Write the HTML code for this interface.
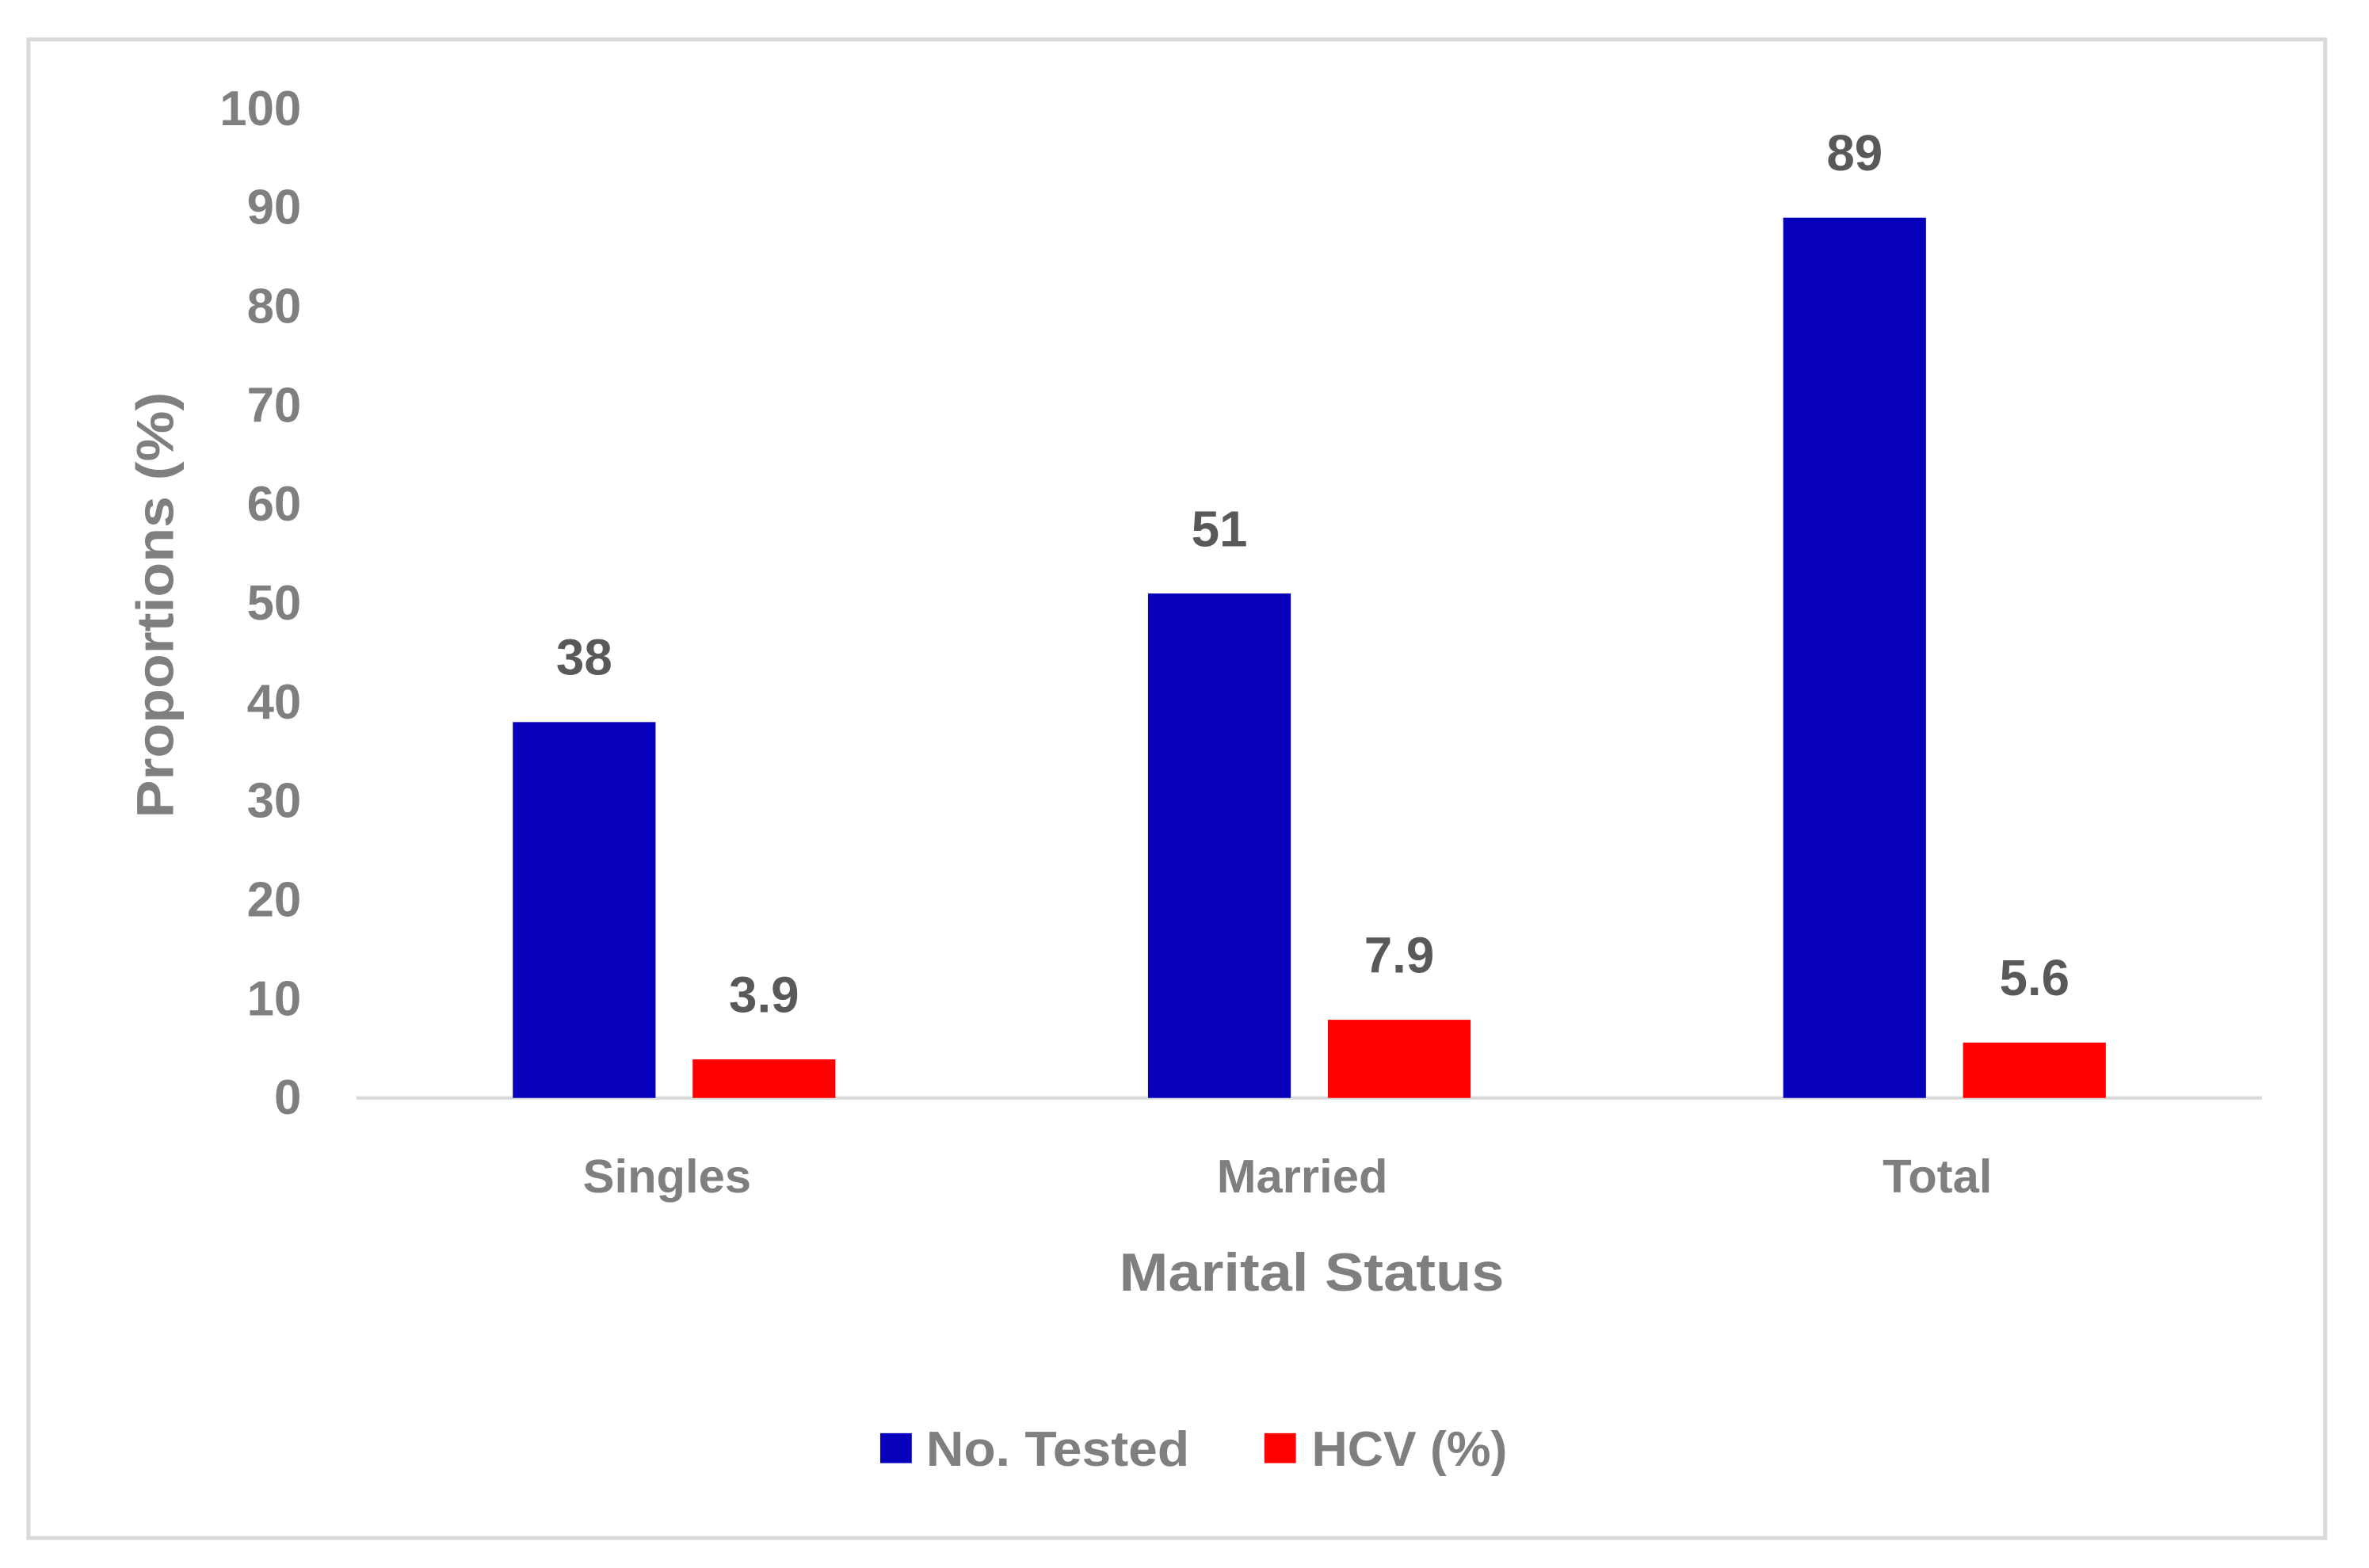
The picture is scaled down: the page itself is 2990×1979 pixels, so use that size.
<!DOCTYPE html>
<html><head><meta charset="utf-8"><style>
html,body{margin:0;padding:0;background:#fff;}
svg{display:block;font-family:"Liberation Sans",sans-serif;font-weight:bold;}
</style></head><body>
<svg id="chart" width="2990" height="1979" viewBox="0 0 2990 1979" xmlns="http://www.w3.org/2000/svg">
<g transform="scale(0.9955)">
<rect x="36" y="50" width="2912" height="1900" fill="#fff" stroke="#d9d9d9" stroke-width="5"/>
<g id="yticks"></g>
<line x1="452" y1="1392" x2="2868" y2="1392" stroke="#d9d9d9" stroke-width="4"/>
<g id="bars"></g>
<g id="xlabels"></g>
<text transform="translate(197,767) rotate(-90)" text-anchor="middle" dominant-baseline="central" font-size="66" fill="#7f7f7f" textLength="540" lengthAdjust="spacingAndGlyphs">Proportions (%)</text>
<text x="1663" y="1614" text-anchor="middle" dominant-baseline="central" font-size="68" fill="#7f7f7f" textLength="488" lengthAdjust="spacingAndGlyphs">Marital Status</text>
<g>
<rect x="1116" y="1817" width="40" height="38" fill="#0600bd"/>
<text x="1174" y="1838" dominant-baseline="central" font-size="62" fill="#7f7f7f" textLength="334" lengthAdjust="spacingAndGlyphs">No. Tested</text>
<rect x="1603" y="1817" width="40" height="38" fill="#ff0000"/>
<text x="1663" y="1838" dominant-baseline="central" font-size="62" fill="#7f7f7f" textLength="248" lengthAdjust="spacingAndGlyphs">HCV (%)</text>
</g>
</g>
</svg>
<script>
const categories = ["Singles", "Married", "Total"];
const noTested = [38, 51, 89];
const hcv = [3.9, 7.9, 5.6];
const noTestedLabels = ["38", "51", "89"];
const hcvLabels = ["3.9", "7.9", "5.6"];
const yTicks = [0, 10, 20, 30, 40, 50, 60, 70, 80, 90, 100];

const NS = "http://www.w3.org/2000/svg";
const x0 = 452, x1 = 2868, yBase = 1392, yTop = 138;
const yMax = 100;
function yScale(v){ return yBase - (v / yMax) * (yBase - yTop); }
const band = (x1 - x0) / categories.length;
function bandCenter(i){ return x0 + band * (i + 0.5); }
const barW = 181, gap = 47;

const yt = document.getElementById('yticks');
yTicks.forEach(t => {
  const el = document.createElementNS(NS, 'text');
  
  
  el.setAttribute('x', 382);
  el.setAttribute('y', yScale(t));
  el.setAttribute('text-anchor', 'end');
  el.setAttribute('dominant-baseline', 'central');
  el.setAttribute('font-size', '62');
  el.setAttribute('fill', '#7f7f7f');
  el.textContent = String(t);
  yt.appendChild(el);
});

const bg = document.getElementById('bars');
function addBar(i, v, label, color, offset, name){
  const xl = bandCenter(i) + offset;
  const r = document.createElementNS(NS, 'rect');
  
  
  r.setAttribute('x', xl);
  r.setAttribute('y', yScale(v));
  r.setAttribute('width', barW);
  r.setAttribute('height', yBase - yScale(v));
  r.setAttribute('fill', color);
  bg.appendChild(r);
  const t = document.createElementNS(NS, 'text');
  
  
  t.setAttribute('x', xl + barW / 2);
  t.setAttribute('y', yScale(v) - 82);
  t.setAttribute('text-anchor', 'middle');
  t.setAttribute('dominant-baseline', 'central');
  t.setAttribute('font-size', '64');
  t.setAttribute('fill', '#595959');
  t.textContent = label;
  bg.appendChild(t);
}
categories.forEach((c, i) => {
  addBar(i, noTested[i], noTestedLabels[i], '#0600bd', -(barW + gap / 2), 'bar-no-tested');
  addBar(i, hcv[i], hcvLabels[i], '#ff0000', gap / 2, 'bar-hcv');
});

const xl = document.getElementById('xlabels');
categories.forEach((c, i) => {
  const t = document.createElementNS(NS, 'text');
  
  
  t.setAttribute('x', bandCenter(i) - 9);
  t.setAttribute('y', 1491);
  t.setAttribute('text-anchor', 'middle');
  t.setAttribute('dominant-baseline', 'central');
  t.setAttribute('font-size', '60');
  t.setAttribute('fill', '#7f7f7f');
  t.textContent = c;
  xl.appendChild(t);
});
</script>
</body></html>
